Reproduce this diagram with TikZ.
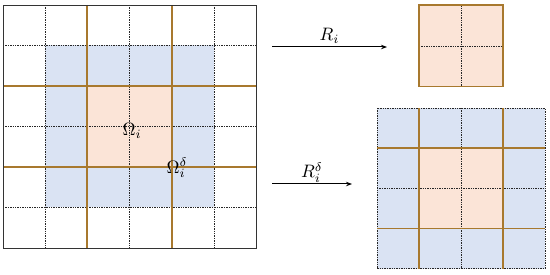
\documentclass[tikz,border=0pt]{standalone}
\usepackage{tikz}
\usetikzlibrary{arrows.meta, positioning, calc}
\definecolor{ddbrown}{HTML}{A8792E}
\definecolor{ddpeach}{HTML}{FBE4D7}
\definecolor{ddblue}{HTML}{DAE3F3}
\newcommand{\ddsym}[1]{\scalebox{1.8}{$#1$}}

\begin{document}
\begin{tikzpicture}[
  x=1pt, y=-1pt,
  fine/.style={dash pattern=on 1.4pt off 1pt, line width=0.7pt, draw=black!85},
  part/.style={line width=1.6pt, draw=ddbrown},
  frame/.style={line width=0.9pt, draw=black!80},
  arr/.style={-{Stealth[length=6pt, width=4.5pt]}, line width=1pt},
  lbl/.style={inner sep=1pt}
]
  \useasboundingbox (0,0) rectangle (550,275);

  % global grid
  \fill[ddblue]  (45,45.5) rectangle (214,207.5);
  \fill[ddpeach] (87,86) rectangle (172,167);
  \foreach \gx in {45,129.5,214}
    \draw[fine] (\gx,5) -- (\gx,248);
  \foreach \gy in {45.5,126.5,207.5}
    \draw[fine] (3,\gy) -- (256,\gy);
  \foreach \gx in {87,172}
    \draw[part] (\gx,5) -- (\gx,248);
  \foreach \gy in {86,167}
    \draw[part] (3,\gy) -- (256,\gy);
  \draw[frame] (3,5) rectangle (256,248);

  \node[lbl] (omega) at (132,131) {\ddsym{\Omega_i}};
  \node[lbl] (omegad) at (177,168) {\ddsym{\Omega_i^\delta}};

  % restriction R_i
  \coordinate (rfrom) at (272,47);
  \coordinate (rto) at (387,47);
  \draw[arr] (rfrom) -- node[lbl, above=2pt] (rlbl) {\ddsym{R_i}} (rto);

  \fill[ddpeach] (419,5.3) rectangle (503,86.7);
  \draw[fine] (461,5.3) -- (461,86.7);
  \draw[fine] (419,46) -- (503,46);
  \draw[part] (419,5.3) rectangle (503,86.7);

  % restriction R_i^delta
  \coordinate (dfrom) at (272,184);
  \coordinate (dto) at (352,184);
  \draw[arr] (dfrom) -- node[lbl, above=0pt] (dlbl) {\ddsym{R_i^\delta}} (dto);

  \fill[ddblue]  (377,108) rectangle (545,268.7);
  \fill[ddpeach] (419,148) rectangle (503,228.5);
  \draw[fine] (461,108) -- (461,268.7);
  \draw[fine] (377,188.2) -- (545,188.2);
  \draw[fine] (377,108) rectangle (545,268.7);
  \foreach \gx in {419,503}
    \draw[part] (\gx,108) -- (\gx,268.7);
  \foreach \gy in {148,228.5}
    \draw[part] (377,\gy) -- (545,\gy);
\end{tikzpicture}
\end{document}
